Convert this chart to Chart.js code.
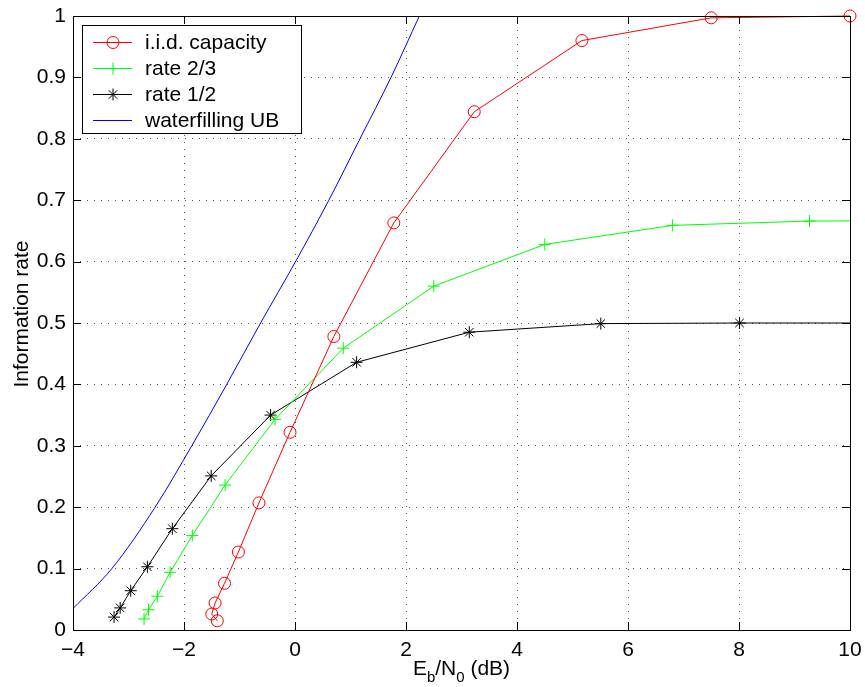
<!DOCTYPE html>
<html>
<head>
<meta charset="utf-8">
<script src="https://cdn.jsdelivr.net/npm/chart.js@4.4.0/dist/chart.umd.min.js"></script>
<style>
  html, body { margin: 0; padding: 0; background: #fff; }
</style>
</head>
<body>
<canvas id="rates" width="865" height="687"></canvas>
<script>
// i.i.d. capacity (ordered by rate, the curve folds back at low rate)
let iidSnr = [-1.40, -1.50, -1.44, -1.27, -1.02, -0.65, -0.09, 0.70, 1.78, 3.23, 5.17, 7.50, 10.0];
let iidRate = [0.015, 0.026, 0.044, 0.076, 0.127, 0.207, 0.322, 0.478, 0.663, 0.844, 0.960, 0.997, 1.0];

// rate 2/3 code
let r23Snr = [-2.72, -2.64, -2.48, -2.25, -1.85, -1.26, -0.36, 0.87, 2.50, 4.50, 6.80, 9.27, 11.8];
let r23Rate = [0.018, 0.033, 0.055, 0.094, 0.154, 0.236, 0.343, 0.459, 0.560, 0.628, 0.659, 0.666, 0.667];

// rate 1/2 code
let r12Snr = [-3.26, -3.15, -2.96, -2.66, -2.21, -1.51, -0.44, 1.11, 3.14, 5.51, 8.01, 10.5];
let r12Rate = [0.021, 0.036, 0.064, 0.103, 0.165, 0.251, 0.350, 0.436, 0.485, 0.499, 0.500, 0.500];

// waterfilling upper bound
let wfSnr = [-4.0, -3.30, -2.52, -1.86, -1.23, -0.62, 0.01, 0.61, 1.17, 1.73, 2.24];
let wfRate = [0.035, 0.10, 0.20, 0.30, 0.40, 0.50, 0.60, 0.70, 0.80, 0.90, 1.0];

let xTicks = [-4, -2, 0, 2, 4, 6, 8, 10];
let yTicks = [0, 0.1, 0.2, 0.3, 0.4, 0.5, 0.6, 0.7, 0.8, 0.9, 1];

const FONT = "'Liberation Sans', Arial, Helvetica, sans-serif";
const FSIZE = 21;

function pts(xs, ys) {
  return xs.map((x, i) => ({ x: x, y: ys[i] }));
}

// box, inward ticks, legend and axis titles (matlab style)
const frame = {
  id: "frame",
  afterDatasetsDraw(chart) {
    const ctx = chart.ctx;
    const a = chart.chartArea;
    const xs = chart.scales.x, ys = chart.scales.y;
    ctx.save();
    ctx.strokeStyle = "#000";
    ctx.lineWidth = 1;
    ctx.strokeRect(Math.round(a.left) + 0.5, Math.round(a.top) + 0.5,
      Math.round(a.right - a.left), Math.round(a.bottom - a.top));

    let tl = 8;
    ctx.beginPath();
    xTicks.forEach(v => {
      let px = Math.round(xs.getPixelForValue(v)) + 0.5;
      ctx.moveTo(px, a.bottom); ctx.lineTo(px, a.bottom - tl);
      ctx.moveTo(px, a.top); ctx.lineTo(px, a.top + tl);
    });
    yTicks.forEach(v => {
      let py = Math.round(ys.getPixelForValue(v)) + 0.5;
      ctx.moveTo(a.left, py); ctx.lineTo(a.left + tl, py);
      ctx.moveTo(a.right, py); ctx.lineTo(a.right - tl, py);
    });
    ctx.stroke();

    // legend
    let lx = Math.round(a.left) + 9, ly = Math.round(a.top) + 9;
    ctx.fillStyle = "#fff";
    ctx.fillRect(lx, ly, 219, 108);
    ctx.strokeRect(lx + 0.5, ly + 0.5, 219, 108);
    ctx.font = FSIZE + "px " + FONT;
    ctx.textBaseline = "middle";
    ctx.textAlign = "left";
    chart.data.datasets.forEach((ds, i) => {
      let cy = ly + 17 + i * 26;
      ctx.strokeStyle = ds.borderColor;
      ctx.lineWidth = 1;
      ctx.beginPath();
      ctx.moveTo(lx + 11, cy + 0.5);
      ctx.lineTo(lx + 50, cy + 0.5);
      ctx.stroke();
      if (ds.pointRadius > 0) {
        ctx.strokeStyle = ds.pointBorderColor;
        ctx.fillStyle = "rgba(0,0,0,0)";
        Chart.helpers.drawPoint(ctx, {
          pointStyle: ds.pointStyle, radius: ds.pointRadius,
          rotation: 0, borderWidth: 1
        }, lx + 31, cy + 0.5);
      }
      ctx.fillStyle = "#000";
      ctx.fillText(ds.label, lx + 63, cy + 1);
    });

    // y title
    ctx.save();
    ctx.translate(22, 314);
    ctx.rotate(-Math.PI / 2);
    ctx.textAlign = "center";
    ctx.textBaseline = "middle";
    ctx.fillStyle = "#000";
    ctx.fillText("Information rate", 0, 0);
    ctx.restore();

    // x title with subscripts: E_b/N_0 (dB)
    let parts = [["E", 0], ["b", 1], ["/N", 0], ["0", 1], [" (dB)", 0]];
    let big = FSIZE + "px " + FONT, small = Math.round(FSIZE * 0.72) + "px " + FONT;
    let total = 0;
    parts.forEach(p => { ctx.font = p[1] ? small : big; total += ctx.measureText(p[0]).width; });
    let x = (a.left + a.right) / 2 - total / 2;
    let base = 675;
    ctx.textBaseline = "alphabetic";
    ctx.textAlign = "left";
    parts.forEach(p => {
      ctx.font = p[1] ? small : big;
      ctx.fillText(p[0], x, p[1] ? base + 7 : base);
      x += ctx.measureText(p[0]).width;
    });
    ctx.restore();
  }
};

let ctx = document.getElementById("rates").getContext("2d");
let chart = new Chart(ctx, {
  type: "scatter",
  data: {
    datasets: [
      {
        label: "i.i.d. capacity",
        data: pts(iidSnr, iidRate),
        showLine: true,
        borderColor: "#ff0000",
        borderWidth: 1,
        pointStyle: "circle",
        pointRadius: 6,
        pointBorderWidth: 1,
        pointBorderColor: "#ff0000",
        pointBackgroundColor: "rgba(0,0,0,0)",
        clip: false
      },
      {
        label: "rate 2/3",
        data: pts(r23Snr, r23Rate),
        showLine: true,
        borderColor: "#00ff00",
        borderWidth: 1,
        pointStyle: "cross",
        pointRadius: 6,
        pointBorderWidth: 1,
        pointBorderColor: "#00ff00",
        pointBackgroundColor: "rgba(0,0,0,0)"
      },
      {
        label: "rate 1/2",
        data: pts(r12Snr, r12Rate),
        showLine: true,
        borderColor: "#000000",
        borderWidth: 1,
        pointStyle: "star",
        pointRadius: 6,
        pointBorderWidth: 1,
        pointBorderColor: "#000000",
        pointBackgroundColor: "rgba(0,0,0,0)"
      },
      {
        label: "waterfilling UB",
        data: pts(wfSnr, wfRate),
        showLine: true,
        borderColor: "#0000ff",
        borderWidth: 1,
        pointRadius: 0,
        cubicInterpolationMode: "monotone"
      }
    ]
  },
  options: {
    responsive: false,
    animation: false,
    events: [],
    layout: { padding: { top: 16, right: 15, left: 0, bottom: 0 } },
    plugins: {
      legend: { display: false },
      tooltip: { enabled: false }
    },
    scales: {
      x: {
        type: "linear",
        min: -4,
        max: 10,
        afterBuildTicks: s => { s.ticks = xTicks.map(v => ({ value: v })); },
        afterFit: s => { s.height = 57; s.paddingLeft = 0; s.paddingRight = 0; },
        ticks: {
          color: "#000",
          padding: 8,
          font: { family: FONT, size: FSIZE },
          callback: v => String(v).replace("-", "\u2212")
        },
        grid: { color: "#555", lineWidth: 1, drawTicks: false },
        border: { display: false, dash: [1, 6] }
      },
      y: {
        type: "linear",
        min: 0,
        max: 1,
        afterBuildTicks: s => { s.ticks = yTicks.map(v => ({ value: v })); },
        afterFit: s => { s.width = 73; s.paddingTop = 0; s.paddingBottom = 0; },
        ticks: {
          color: "#000",
          padding: 7,
          font: { family: FONT, size: FSIZE },
          callback: v => String(v)
        },
        grid: { color: "#555", lineWidth: 1, drawTicks: false },
        border: { display: false, dash: [1, 6] }
      }
    }
  },
  plugins: [frame]
});
</script>
</body>
</html>
